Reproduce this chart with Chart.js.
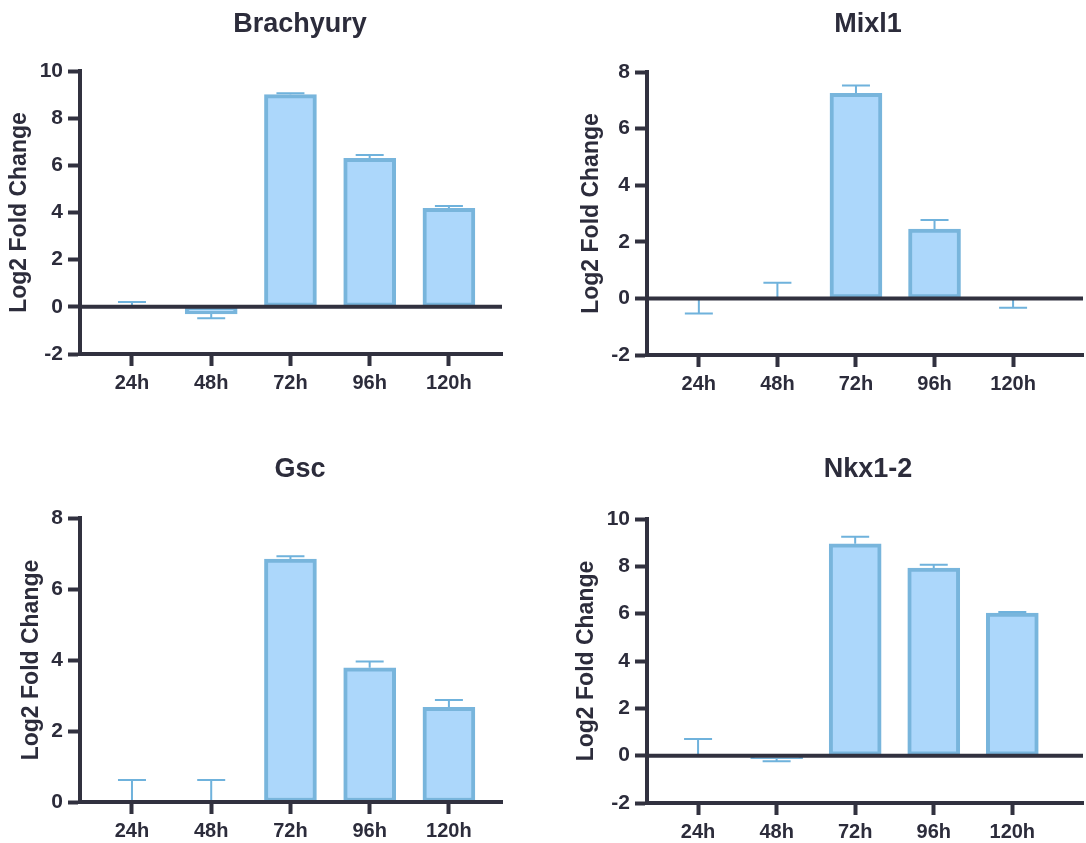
<html>
  <head>
    <script src="https://cdn.jsdelivr.net/npm/chart.js@4.4.1/dist/chart.umd.min.js"></script>
    <style>
      body { margin: 0; background: #fff; overflow: hidden; width: 1086px; height: 843px; position: relative; }
      canvas { position: absolute; }
    </style>
  </head>
  <body>
    <canvas id="brachyury" width="600" height="420" style="left:0px;top:0px"></canvas>
    <canvas id="mixl1" width="602" height="420" style="left:567px;top:0px"></canvas>
    <canvas id="gsc" width="600" height="398" style="left:0px;top:445px"></canvas>
    <canvas id="nkx12" width="602" height="398" style="left:567px;top:445px"></canvas>
    <script>
      var hours = ["24h", "48h", "72h", "96h", "120h"];

      var brachyuryMean = [0.02, -0.3, 9.0, 6.3, 4.18];
      var brachyuryErr = [0.18, 0.18, 0.06, 0.14, 0.1];

      var mixl1Mean = [-0.03, 0.02, 7.25, 2.45, -0.03];
      var mixl1Err = [0.5, 0.53, 0.27, 0.32, 0.3];

      var gscMean = [0, 0, 6.84, 3.78, 2.67];
      var gscErr = [0.62, 0.62, 0.08, 0.18, 0.2];

      var nkx12Mean = [0.0, -0.13, 8.95, 7.93, 6.02];
      var nkx12Err = [0.7, 0.11, 0.3, 0.14, 0.05];

      var dark = "#31313f";
      var textColor = "#2c2c3b";
      var barFill = "#acd7fb";
      var barEdge = "#78b5dc";
      var whisker = "#6fb2dc";
      var fontFamily = "'Liberation Sans', Arial, sans-serif";

      // error bars (under the bars) + heavy zero line (over them)
      var extras = {
        id: "extras",
        beforeDatasetsDraw(chart) {
          var err = chart.options.plugins.extras.err;
          var mean = chart.data.datasets[0].data;
          var xs = chart.scales.x, ys = chart.scales.y;
          var ctx = chart.ctx;
          ctx.save();
          ctx.strokeStyle = whisker;
          ctx.lineWidth = 2;
          mean.forEach((p, i) => {
            var dir = p.y < 0 ? -1 : 1;
            var x = xs.getPixelForValue(p.x);
            var y0 = ys.getPixelForValue(p.y);
            var y1 = ys.getPixelForValue(p.y + dir * err[i]);
            ctx.beginPath();
            ctx.moveTo(x, y0);
            ctx.lineTo(x, y1);
            ctx.moveTo(x - 14, y1);
            ctx.lineTo(x + 14, y1);
            ctx.stroke();
          });
          ctx.restore();
        },
        afterDatasetsDraw(chart) {
          var ys = chart.scales.y, a = chart.chartArea;
          var y = ys.getPixelForValue(0);
          var ctx = chart.ctx;
          ctx.save();
          ctx.strokeStyle = dark;
          ctx.lineWidth = 4;
          ctx.beginPath();
          ctx.moveTo(a.left, y);
          ctx.lineTo(a.right, y);
          ctx.stroke();
          ctx.restore();
        },
      };

      function makePanel(id, title, mean, err, p) {
        var ctx = document.getElementById(id).getContext("2d");
        return new Chart(ctx, {
          type: "bar",
          data: {
            datasets: [
              {
                data: mean.map((v, i) => ({ x: i, y: v })),
                backgroundColor: barFill,
                borderColor: barEdge,
                borderWidth: 4,
                borderSkipped: false,
                barThickness: 52,
              },
            ],
          },
          options: {
            responsive: false,
            animation: false,
            events: [],
            layout: { padding: 0 },
            plugins: {
              legend: { display: false },
              tooltip: { enabled: false },
              title: {
                display: true,
                text: title,
                color: textColor,
                font: { family: fontFamily, size: 27, weight: "bold", lineHeight: 1.2 },
                padding: { top: 8.8, bottom: p.top - 41.2 },
              },
              extras: { err: err },
            },
            scales: {
              x: {
                type: "linear",
                offset: false,
                min: p.xmin,
                max: p.xmax,
                afterBuildTicks: (s) => { s.ticks = hours.map((h, i) => ({ value: i })); },
                afterFit: (s) => { s.height = p.xh; },
                ticks: {
                  callback: (v) => hours[v],
                  color: textColor,
                  padding: 5,
                  maxRotation: 0,
                  font: { family: fontFamily, size: 20, weight: "bold" },
                },
                grid: { offset: false, drawOnChartArea: false, tickLength: 12, tickWidth: 4, tickColor: dark },
                border: { display: true, width: 4, color: dark },
              },
              y: {
                min: p.ymin,
                max: p.ymax,
                afterFit: (s) => { s.width = 80; },
                ticks: {
                  stepSize: 2,
                  color: textColor,
                  padding: 5,
                  font: { family: fontFamily, size: 21, weight: "bold" },
                },
                grid: { drawOnChartArea: false, tickLength: 12, tickWidth: 4, tickColor: dark },
                border: { display: true, width: 4, color: dark },
                title: {
                  display: true,
                  text: "Log2 Fold Change",
                  color: textColor,
                  padding: { top: p.tpad, bottom: 0 },
                  font: { family: fontFamily, size: 23, weight: "bold", lineHeight: 1.2 },
                },
              },
              pad: {
                type: "linear",
                position: "right",
                display: true,
                grid: { display: false },
                border: { display: false },
                ticks: { display: false },
                afterFit: (s) => { s.width = p.rw; },
              },
            },
          },
          plugins: [extras],
        });
      }

      makePanel("brachyury", "Brachyury", brachyuryMean, brachyuryErr,
        { top: 71, xh: 66, rw: 98, xmin: -0.656, xmax: 4.67, ymin: -2, ymax: 10, tpad: 6.2 });
      makePanel("mixl1", "Mixl1", mixl1Mean, mixl1Err,
        { top: 72, xh: 65, rw: 86, xmin: -0.66, xmax: 4.89, ymin: -2, ymax: 8, tpad: 11.2 });
      makePanel("gsc", "Gsc", gscMean, gscErr,
        { top: 73, xh: 41, rw: 98, xmin: -0.656, xmax: 4.67, ymin: 0, ymax: 8, tpad: 18.2 });
      makePanel("nkx12", "Nkx1-2", nkx12Mean, nkx12Err,
        { top: 74, xh: 40, rw: 86, xmin: -0.65, xmax: 4.9, ymin: -2, ymax: 10, tpad: 6.2 });
    </script>
  </body>
</html>
